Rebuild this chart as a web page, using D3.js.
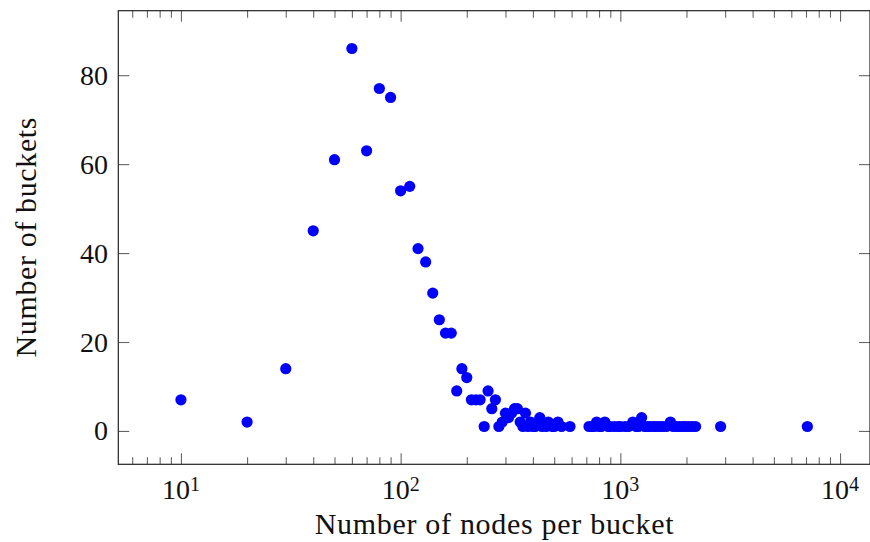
<!DOCTYPE html>
<html>
<head>
<meta charset="utf-8">
<script src="https://cdn.jsdelivr.net/npm/d3@7"></script>
<style>
  html, body { margin: 0; padding: 0; background: #fff; }
  svg { display: block; }
</style>
</head>
<body>
<div id="container"></div>
<script>
// bucket size (x) and how many buckets have that size (y)
const nodesPerBucket = [
  10, 20, 30, 40, 50, 60, 70, 80, 90, 100,
  110, 120, 130, 140, 150, 160, 170, 180, 190, 200,
  210, 220, 230, 240, 250, 260, 270, 280, 290, 300,
  310, 320, 330, 340, 350, 360, 370, 380, 390, 400,
  410, 430, 440, 460, 470, 490, 500, 520, 540, 590,
  720, 740, 760, 780, 800, 820, 850, 880, 900, 940,
  980, 1000, 1050, 1090, 1140, 1180, 1210, 1250, 1290, 1330,
  1370, 1420, 1460, 1510, 1560, 1620, 1690, 1740, 1800, 1860,
  1920, 1980, 2050, 2120, 2200, 2860, 7100
]
const bucketCounts = [
  7, 2, 14, 45, 61, 86, 63, 77, 75, 54,
  55, 41, 38, 31, 25, 22, 22, 9, 14, 12,
  7, 7, 7, 1, 9, 5, 7, 1, 2, 4,
  3, 4, 5, 5, 2, 1, 4, 1, 2, 1,
  1, 3, 1, 1, 2, 1, 1, 2, 1, 1,
  1, 1, 1, 2, 1, 1, 2, 1, 1, 1,
  1, 1, 1, 1, 2, 1, 1, 3, 1, 1,
  1, 1, 1, 1, 1, 1, 2, 1, 1, 1,
  1, 1, 1, 1, 1, 1, 1
]
const xMajorTicks = [10, 100, 1000, 10000]
const xTickExponents = ['1', '2', '3', '4']
const yTicks = [0, 20, 40, 60, 80]
const xLabel = 'Number of nodes per bucket'
const yLabel = 'Number of buckets'

const width = 870
const height = 542
const plot = { left: 118.3, right: 870, top: 10.7, bottom: 464.3 }
const font = 'Liberation Serif'

let svg = d3.select('#container')
  .append('svg')
  .attr('xmlns', 'http://www.w3.org/2000/svg')
  .attr('width', width)
  .attr('height', height)

// pgfplots-like limits: 10% enlargement of the data range (log for x)
let lx = d3.extent(nodesPerBucket).map(Math.log10)
let padX = 0.1 * (lx[1] - lx[0])
let x = d3.scaleLog()
  .domain([Math.pow(10, lx[0] - padX), Math.pow(10, lx[1] + padX)])
  .range([plot.left, plot.right])

let ly = d3.extent(bucketCounts)
let padY = 0.1 * (ly[1] - ly[0])
let y = d3.scaleLinear()
  .domain([ly[0] - padY, ly[1] + padY])
  .range([plot.bottom, plot.top])

// minor ticks 2..9 of every decade inside the domain
let xMinorTicks = []
for (let e = 0; e <= 4; e++) {
  for (let m = 2; m <= 9; m++) {
    let v = m * Math.pow(10, e)
    if (v >= x.domain()[0] && v <= x.domain()[1]) xMinorTicks.push(v)
  }
}

function styleTicks(g) {
  g.select('.domain').remove()
  g.selectAll('.tick line').attr('stroke', '#666').attr('stroke-width', 1.1)
}

// ticks point inward on all four sides
svg.append('g').attr('transform', `translate(0,${plot.bottom})`)
  .call(d3.axisBottom(x).tickValues(xMinorTicks).tickSize(-7).tickFormat(''))
  .call(styleTicks)
svg.append('g').attr('transform', `translate(0,${plot.bottom})`)
  .call(d3.axisBottom(x).tickValues(xMajorTicks).tickSize(-11).tickFormat(''))
  .call(styleTicks)
svg.append('g').attr('transform', `translate(0,${plot.top})`)
  .call(d3.axisTop(x).tickValues(xMinorTicks).tickSize(-7).tickFormat(''))
  .call(styleTicks)
svg.append('g').attr('transform', `translate(0,${plot.top})`)
  .call(d3.axisTop(x).tickValues(xMajorTicks).tickSize(-11).tickFormat(''))
  .call(styleTicks)
svg.append('g').attr('transform', `translate(${plot.left},0)`)
  .call(d3.axisLeft(y).tickValues(yTicks).tickSize(-11).tickFormat(''))
  .call(styleTicks)
svg.append('g').attr('transform', `translate(${plot.right},0)`)
  .call(d3.axisRight(y).tickValues(yTicks).tickSize(-11).tickFormat(''))
  .call(styleTicks)

// frame
svg.append('rect')
  .attr('x', plot.left)
  .attr('y', plot.top)
  .attr('width', plot.right - plot.left)
  .attr('height', plot.bottom - plot.top)
  .attr('fill', 'none')
  .attr('stroke', '#222')
  .attr('stroke-width', 1.2)

// x tick labels 10^n
let xl = svg.append('g')
  .selectAll('text')
  .data(xMajorTicks)
  .enter()
  .append('text')
  .attr('x', d => x(d))
  .attr('y', 499)
  .attr('text-anchor', 'middle')
  .attr('font-family', font)
  .attr('font-size', 28)
  .attr('fill', '#111')
xl.append('tspan').text('10')
xl.append('tspan')
  .attr('dy', '-0.42em')
  .attr('font-size', 20)
  .text((d, i) => xTickExponents[i])

// y tick labels
svg.append('g')
  .selectAll('text')
  .data(yTicks)
  .enter()
  .append('text')
  .attr('x', 108)
  .attr('y', d => y(d))
  .attr('dy', '0.34em')
  .attr('text-anchor', 'end')
  .attr('font-family', font)
  .attr('font-size', 28)
  .attr('fill', '#111')
  .text(d => d)

// axis labels
svg.append('text')
  .attr('x', (plot.left + plot.right) / 2)
  .attr('y', 534)
  .attr('text-anchor', 'middle')
  .attr('textLength', 359)
  .attr('lengthAdjust', 'spacing')
  .attr('font-family', font)
  .attr('font-size', 30)
  .attr('fill', '#111')
  .text(xLabel)

svg.append('text')
  .attr('transform', `translate(36,${(plot.top + plot.bottom) / 2}) rotate(-90)`)
  .attr('text-anchor', 'middle')
  .attr('textLength', 240)
  .attr('lengthAdjust', 'spacing')
  .attr('font-family', font)
  .attr('font-size', 30)
  .attr('fill', '#111')
  .text(yLabel)

// points
svg.append('g')
  .selectAll('circle')
  .data(nodesPerBucket.map((v, i) => ({ nodes: v, count: bucketCounts[i] })))
  .enter()
  .append('circle')
  .attr('cx', d => x(d.nodes))
  .attr('cy', d => y(d.count))
  .attr('r', 5.6)
  .style('fill', '#0000ff')
</script>
</body>
</html>
